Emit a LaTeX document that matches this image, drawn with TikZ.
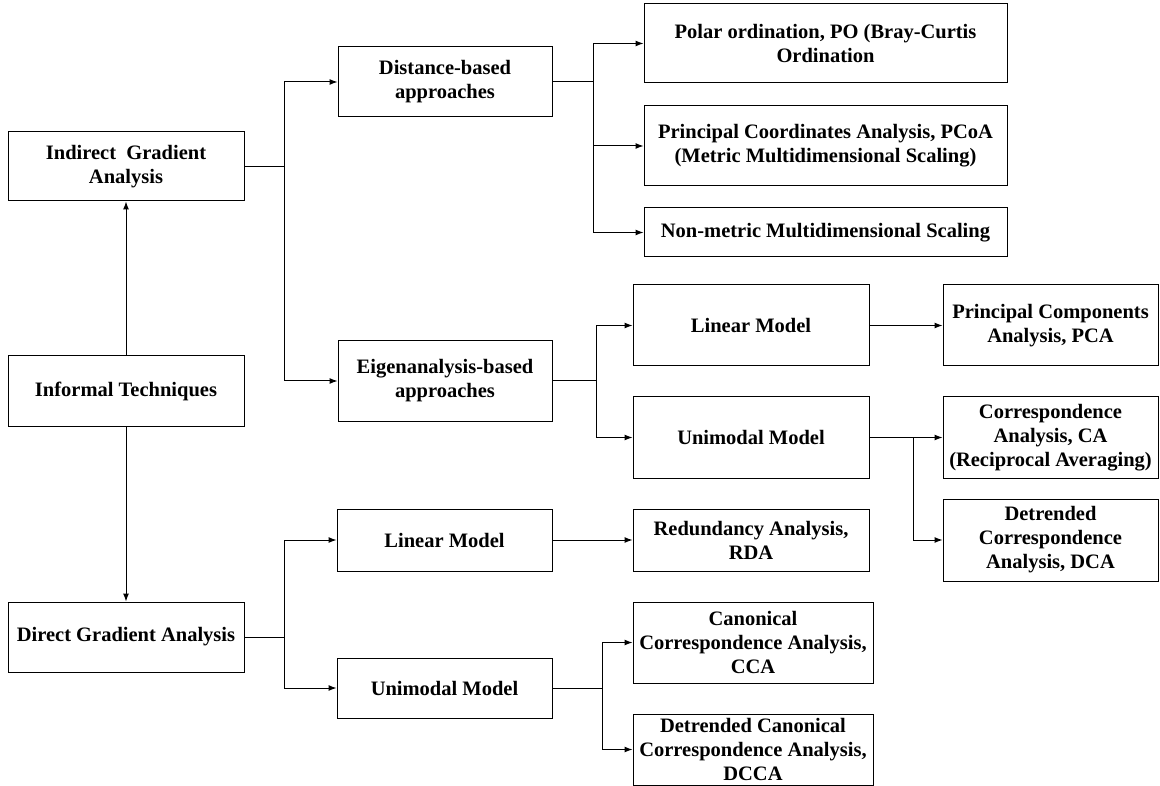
\documentclass[tikz,border=0pt]{standalone}
\usepackage{fontspec}
\setmainfont{Liberation Serif}
\usetikzlibrary{positioning,arrows.meta}

\begin{document}
\begin{tikzpicture}[>={Latex[length=8pt,width=6pt]}, x=1pt, y=-1pt, line width=1pt,
    box/.style={draw, align=center, inner sep=0pt,
        font=\fontsize{20.5}{24}\selectfont\bfseries}]
        \useasboundingbox (0,0) rectangle (1160,786);
        \path
        % 1st column
        (126, 166.5) node[box, minimum width=236pt, minimum height=69pt]  (iga)  {Indirect\ \ Gradient\\Analysis}
        (126, 391)   node[box, minimum width=236pt, minimum height=70pt]  (inf)  {Informal Techniques}
        (126, 637)   node[box, minimum width=236pt, minimum height=70pt]  (dga)  {Direct Gradient Analysis}
        % 2nd column
        (445, 82)    node[box, minimum width=214pt, minimum height=70pt]  (dist) {Distance-based\\approaches}
        (445, 381)   node[box, minimum width=214pt, minimum height=80pt]  (eig)  {Eigenanalysis-based\\approaches}
        (444.5, 540) node[box, minimum width=215pt, minimum height=62pt]  (lin2) {Linear Model}
        (444.5, 688) node[box, minimum width=215pt, minimum height=60pt]  (uni2) {Unimodal Model}
        % 3rd column
        (825.5, 43.5) node[box, minimum width=363pt, minimum height=79pt] (po)   {Polar ordination, PO (Bray-Curtis\\Ordination}
        (825.5, 146)  node[box, minimum width=363pt, minimum height=80pt] (pcoa) {Principal Coordinates Analysis, PCoA\\(Metric Multidimensional Scaling)}
        (825.5, 232.5) node[box, minimum width=363pt, minimum height=49pt] (nmds) {Non-metric Multidimensional Scaling}
        (751, 325.5) node[box, minimum width=236pt, minimum height=81pt]  (lin1) {Linear Model}
        (751, 437.5) node[box, minimum width=236pt, minimum height=81pt]  (uni1) {Unimodal Model}
        (751, 540)   node[box, minimum width=236pt, minimum height=62pt]  (rda)  {Redundancy Analysis,\\RDA}
        (753, 642.5) node[box, minimum width=240pt, minimum height=81pt]  (cca)  {Canonical\\Correspondence Analysis,\\CCA}
        (753, 749.5) node[box, minimum width=240pt, minimum height=71pt]  (dcca) {Detrended Canonical\\Correspondence Analysis,\\DCCA}
        % 4th column
        (1050.5, 325.5) node[box, minimum width=215pt, minimum height=81pt] (pca) {Principal Components\\Analysis, PCA}
        (1050.5, 437.5) node[box, minimum width=215pt, minimum height=81pt] (ca)  {Correspondence\\Analysis, CA\\(Reciprocal Averaging)}
        (1050.5, 540)   node[box, minimum width=215pt, minimum height=82pt] (dca) {Detrended\\Correspondence\\Analysis, DCA};

        % branch points
        \coordinate (j1) at (284, 166.5);
        \coordinate (j2) at (593, 82);
        \coordinate (j3) at (596, 381);
        \coordinate (j4) at (913, 437.5);
        \coordinate (j5) at (284, 637);
        \coordinate (j6) at (602, 688);

        \draw[->] (inf)--(iga);
        \draw[->] (inf)--(dga);

        \draw (iga)--(j1);
        \draw[->] (j1)|-(dist);
        \draw[->] (j1)|-(eig);

        \draw (dist)--(j2);
        \draw[->] (j2)|-(po);
        \draw[->] (j2)|-(pcoa);
        \draw[->] (j2)|-(nmds);

        \draw (eig)--(j3);
        \draw[->] (j3)|-(lin1);
        \draw[->] (j3)|-(uni1);
        \draw[->] (lin1)--(pca);
        \draw[->] (uni1)--(ca);
        \draw[->] (j4)|-(dca);

        \draw (dga)--(j5);
        \draw[->] (j5)|-(lin2);
        \draw[->] (j5)|-(uni2);
        \draw[->] (lin2)--(rda);
        \draw (uni2)--(j6);
        \draw[->] (j6)|-(cca);
        \draw[->] (j6)|-(dcca);
    \end{tikzpicture}
\end{document}
